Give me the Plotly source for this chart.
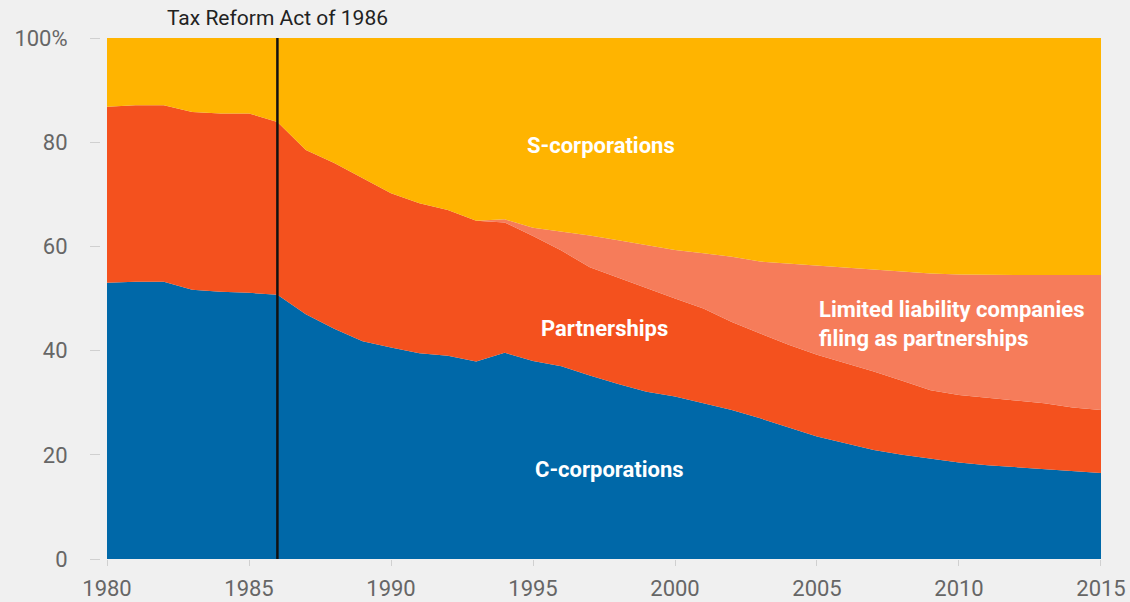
import plotly.graph_objects as go

# Share of business entities by type, percent of total, 1980-2015
years = list(range(1980, 2016))

c_corporations = [53.0, 53.2, 53.2, 51.7, 51.3, 51.1, 50.7, 47.0, 44.2, 41.8,
                  40.6, 39.5, 39.0, 37.9, 39.6, 38.0, 37.0, 35.2, 33.6, 32.1,
                  31.2, 29.9, 28.6, 27.0, 25.3, 23.5, 22.2, 20.9, 20.0, 19.2,
                  18.5, 18.0, 17.6, 17.2, 16.8, 16.5]

partnerships = [33.8, 33.9, 33.9, 34.1, 34.2, 34.4, 33.2, 31.5, 31.8, 31.3,
                29.6, 28.8, 28.0, 27.0, 25.0, 24.0, 22.2, 20.8, 20.4, 19.8,
                18.8, 18.2, 16.9, 16.3, 15.8, 15.7, 15.4, 15.1, 14.2, 13.2,
                13.0, 13.0, 12.8, 12.7, 12.3, 12.1]

llc_partnerships = [0.0, 0.0, 0.0, 0.0, 0.0, 0.0, 0.0, 0.0, 0.0, 0.0,
                    0.0, 0.0, 0.0, 0.0, 0.6, 1.6, 3.7, 6.1, 7.2, 8.3,
                    9.3, 10.6, 12.5, 13.8, 15.6, 17.1, 18.3, 19.6, 21.0, 22.4,
                    23.1, 23.5, 24.1, 24.6, 25.4, 25.9]

s_corporations = [13.2, 12.9, 12.9, 14.2, 14.5, 14.5, 16.1, 21.5, 24.0, 26.9,
                  29.8, 31.7, 33.0, 35.1, 34.8, 36.4, 37.1, 37.9, 38.8, 39.8,
                  40.7, 41.3, 42.0, 42.9, 43.3, 43.7, 44.1, 44.4, 44.8, 45.2,
                  45.4, 45.5, 45.5, 45.5, 45.5, 45.5]

x_ticks = [1980, 1985, 1990, 1995, 2000, 2005, 2010, 2015]
y_ticks = [0, 20, 40, 60, 80, 100]
y_tick_text = ["0", "20", "40", "60", "80", "100%"]

reform_year = 1986

series = [
    ("C-corporations", c_corporations, "#0068A8"),
    ("Partnerships", partnerships, "#F4511E"),
    ("Limited liability companies filing as partnerships", llc_partnerships, "#F67C5A"),
    ("S-corporations", s_corporations, "#FFB400"),
]

BG = "#F0F0F0"
FONT = "Roboto"

fig = go.Figure()
for name, values, color in series:
    fig.add_trace(go.Scatter(
        x=years, y=values, name=name, mode="lines",
        stackgroup="share", line=dict(width=0, color=color),
        fillcolor=color, hoverinfo="x+y+name",
    ))

# Policy marker
fig.add_shape(type="line", x0=reform_year, x1=reform_year, y0=0, y1=100,
              xref="x", yref="y", line=dict(color="#111111", width=2.5))
fig.add_annotation(x=reform_year, y=100, xref="x", yref="y",
                   text="Tax Reform Act of 1986", showarrow=False,
                   yanchor="bottom", yshift=6,
                   font=dict(family=FONT, size=21, color="#222222"))

# In-area labels
label_font = dict(family=FONT, size=22, color="white", weight="bold")
fig.add_annotation(x=1997.4, y=79.3, text="S-corporations", showarrow=False,
                   font=label_font)
fig.add_annotation(x=1997.5, y=44.3, text="Partnerships", showarrow=False,
                   font=label_font)
fig.add_annotation(x=1997.7, y=17.1, text="C-corporations", showarrow=False,
                   font=label_font)
fig.add_annotation(x=2005.0, y=45.1, xanchor="left",
                   text="Limited liability companies<br>filing as partnerships",
                   showarrow=False, align="left", font=label_font)

fig.update_layout(
    width=1130, height=602,
    margin=dict(l=100, r=29, t=38, b=43),
    paper_bgcolor=BG, plot_bgcolor=BG,
    showlegend=False,
    font=dict(family=FONT),
    xaxis=dict(
        range=[1980, 2015], domain=[0.007, 1], automargin=False,
        tickvals=x_ticks, ticks="outside", ticklen=6, tickwidth=1,
        tickcolor="#D0D0D0", ticklabelstandoff=4,
        showgrid=False, zeroline=False, showline=False,
        tickfont=dict(family=FONT, size=22, color="#666666"),
    ),
    yaxis=dict(
        range=[0, 100], anchor="free", position=0, automargin=False,
        tickvals=y_ticks, ticktext=y_tick_text,
        ticks="outside", ticklen=10, tickwidth=1, tickcolor="#D0D0D0",
        ticklabelstandoff=18,
        showgrid=False, zeroline=False, showline=False,
        tickfont=dict(family=FONT, size=22, color="#666666"),
    ),
)

fig.write_html("out.html")
